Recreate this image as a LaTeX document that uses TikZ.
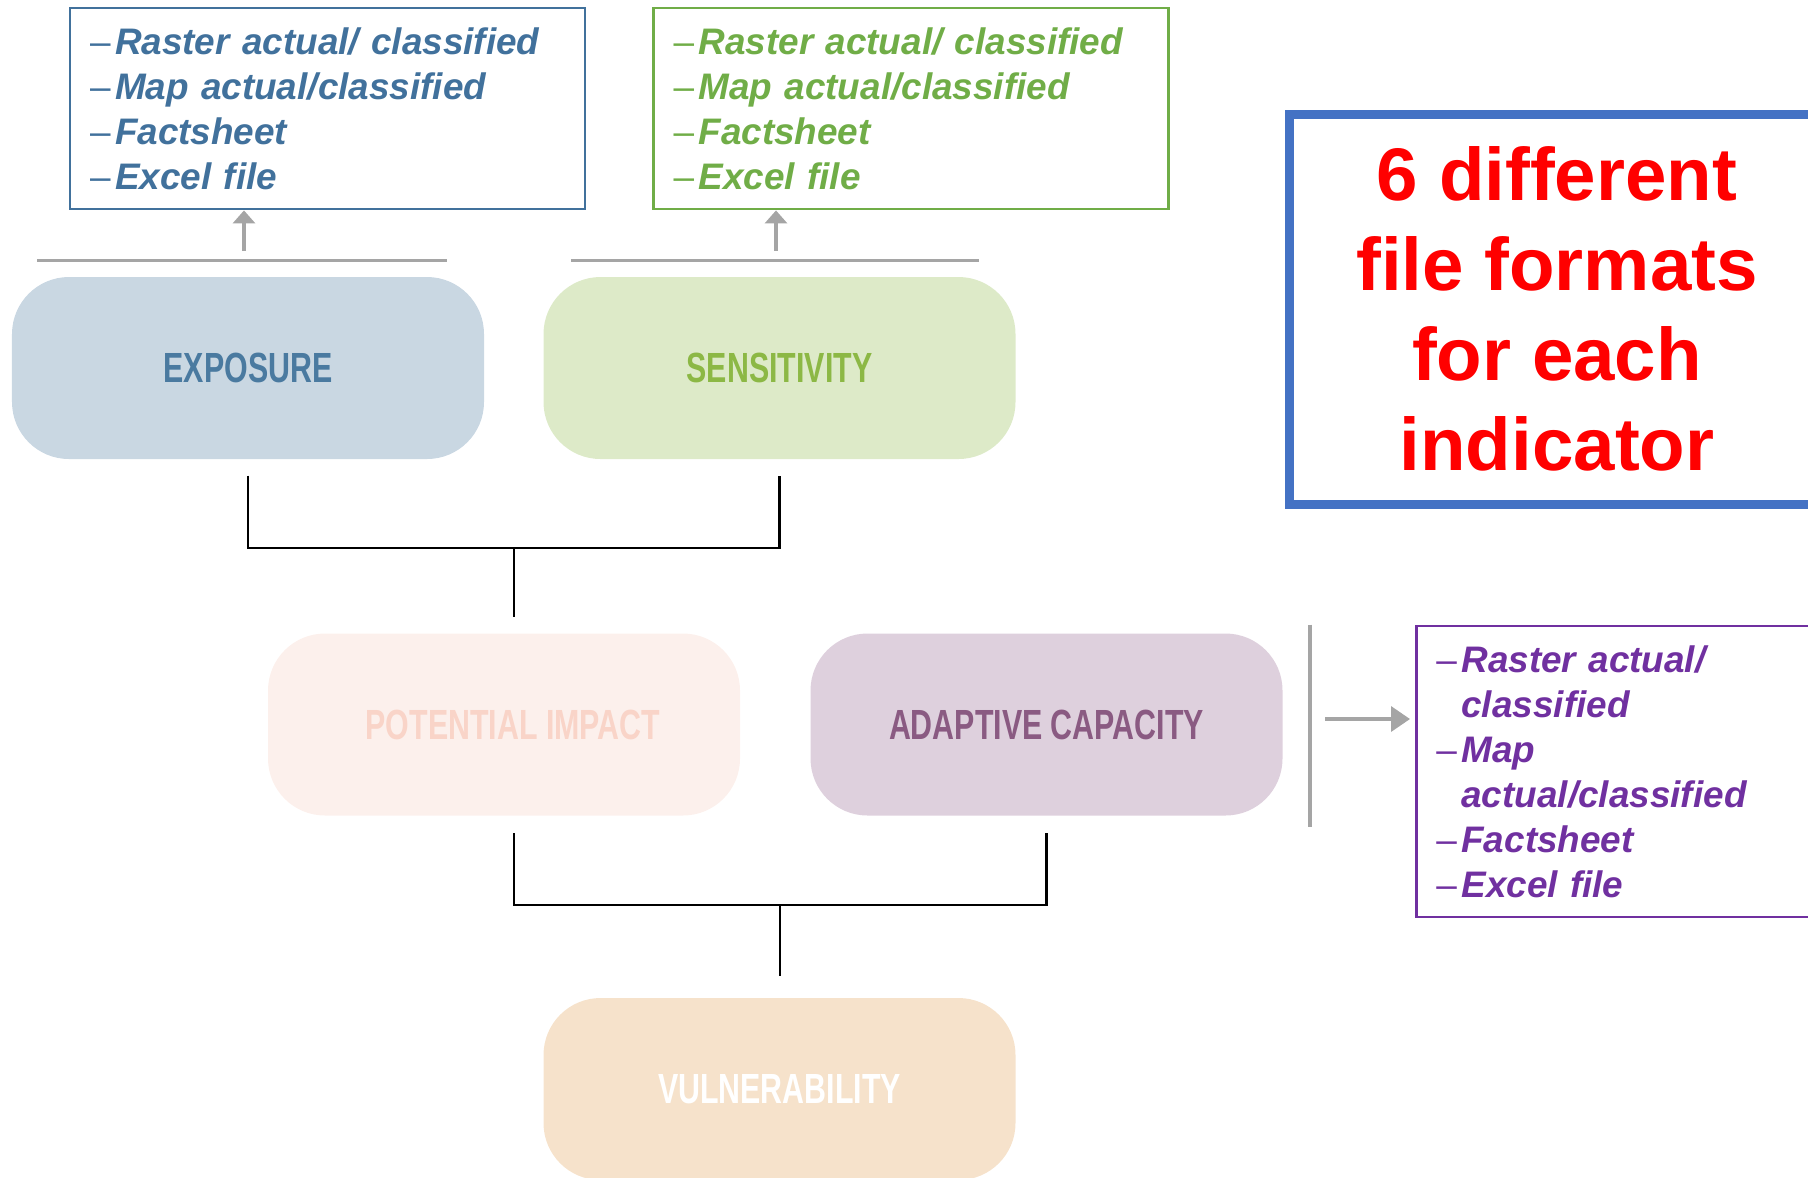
\documentclass[tikz,border=0pt]{standalone}
\usepackage{fontspec}
\setmainfont{Liberation Sans}
\newfontfamily\condfont[FakeStretch=0.72]{Liberation Sans Bold}
\usetikzlibrary{arrows.meta,calc}

\definecolor{expfill}{HTML}{C9D7E2}
\definecolor{exptext}{HTML}{4A7AA0}
\definecolor{sensfill}{HTML}{DDEAC8}
\definecolor{senstext}{HTML}{8CB845}
\definecolor{potfill}{HTML}{FCF0EC}
\definecolor{pottext}{HTML}{F9D4C8}
\definecolor{adaptfill}{HTML}{DED0DD}
\definecolor{adapttext}{HTML}{8A5A82}
\definecolor{vulnfill}{HTML}{F6E2CB}
\definecolor{listblue}{HTML}{41719C}
\definecolor{listgreen}{HTML}{70AD47}
\definecolor{listpurple}{HTML}{7030A0}
\definecolor{linegray}{HTML}{A5A5A5}
\definecolor{frameblue}{HTML}{4472C4}

\newcommand{\fmtitem}[1]{\makebox[0.25cm][l]{\mdseries\upshape –}#1}
\newcommand{\fmtcont}[1]{\hspace*{0.25cm}#1}

\begin{document}
\begin{tikzpicture}[
		block/.style={rounded corners=0.57cm, minimum width=4.72cm, minimum height=1.82cm,
			inner sep=0pt, font=\condfont\fontsize{12}{14}\selectfont},
		fmtlist/.style={draw, line width=0.8pt, align=left, inner xsep=0.2cm, inner ysep=0pt,
			font=\fontsize{10.5}{12.8}\selectfont\bfseries\itshape},
		link/.style={line width=0.6pt},
		bar/.style={draw=linegray, line width=1pt},
		grayarrow/.style={draw=linegray, line width=1pt, -{Triangle[length=0.13cm,width=0.22cm]}}
	]
		\useasboundingbox (0,0) rectangle (18.08,-11.77);
		\clip (0,0) rectangle (18.08,-11.77);
%		\draw[help lines] (0,-12) grid (18,0);
		\path (2.48,-3.68) coordinate (expopos);
		\path (7.795,-3.68) coordinate (senspos);
		\path (5.04,-7.245) coordinate (potpos);
		\path (10.465,-7.245) coordinate (adaptpos);
		\path (7.795,-10.89) coordinate (vulnpos);
		\path (3.275,-1.085) coordinate (bluepos);
		\path (9.11,-1.085) coordinate (greenpos);
		\path (14.15,-7.715) coordinate (purplepos);

		% indicator groups
		\node[block, fill=expfill, text=exptext] (expo) at (expopos) {EXPOSURE};
		\node[block, fill=sensfill, text=senstext] (sens) at (senspos) {SENSITIVITY};
		\node[block, fill=potfill, text=pottext] (pot) at (potpos) {\hspace*{0.18cm}POTENTIAL IMPACT};
		\node[block, fill=adaptfill, text=adapttext] (adapt) at (adaptpos) {ADAPTIVE CAPACITY};
		\node[block, fill=vulnfill, text=white] (vuln) at (vulnpos) {VULNERABILITY};

		% file formats
		\node[fmtlist, draw=listblue, text=listblue, text width=4.75cm, minimum height=2.01cm] (bluelist) at (bluepos)
			{\fmtitem{Raster actual/ classified}\\\fmtitem{Map actual/classified}\\\fmtitem{Factsheet}\\\fmtitem{Excel file}};
		\node[fmtlist, draw=listgreen, text=listgreen, text width=4.75cm, minimum height=2.01cm] (greenlist) at (greenpos)
			{\fmtitem{Raster actual/ classified}\\\fmtitem{Map actual/classified}\\\fmtitem{Factsheet}\\\fmtitem{Excel file}};
		\node[fmtlist, draw=listpurple, text=listpurple, text width=4.1cm, minimum height=2.91cm, anchor=west] (purplelist) at (purplepos)
			{\fmtitem{Raster actual/}\\\fmtcont{classified}\\\fmtitem{Map}\\\fmtcont{actual/classified}\\\fmtitem{Factsheet}\\\fmtitem{Excel file}};

		\node[draw=frameblue, line width=0.09cm, minimum width=5.36cm, minimum height=3.9cm, align=center, text=red,
			font=\fontsize{21.2}{25.6}\selectfont\bfseries] (note) at (15.57,-3.09)
			{6 different\\file formats\\for each\\indicator};

		% gray bars and arrows
		\path ([shift={(0.26,0.16)}]expo.north west) coordinate (expobarl);
		\path ([shift={(-0.38,0.16)}]expo.north east) coordinate (expobarr);
		\path ([shift={(0.28,0.16)}]sens.north west) coordinate (sensbarl);
		\path ([shift={(-0.37,0.16)}]sens.north east) coordinate (sensbarr);
		\draw[bar] (expobarl) -- (expobarr);
		\draw[bar] (sensbarl) -- (sensbarr);
		\path (2.44,-2.51) coordinate (expoup);
		\path (7.76,-2.51) coordinate (sensup);
		\draw[grayarrow] (expoup) -- (expoup |- bluelist.south);
		\draw[grayarrow] (sensup) -- (sensup |- greenlist.south);

		\path ([xshift=0.27cm]adapt.east) coordinate (adaptbar);
		\draw[bar] ([yshift=1.0cm]adaptbar) -- ([yshift=-1.02cm]adaptbar);
		\path (13.25,-7.19) coordinate (adaptout);
		\draw[grayarrow, -{Triangle[length=0.19cm,width=0.25cm]}] (adaptout) -- ([xshift=-0.05cm]adaptout -| purplelist.west);

		% connectors
		\draw[link] ([yshift=-1.6mm]expo.south) -- ++(0,-0.72) -| ([yshift=-1.6mm]sens.south);
		\coordinate (join1) at ($(expo.south)!0.5!(sens.south)+(0,-0.88)$);
		\draw[link] (join1) -- ([yshift=1.6mm]pot.north -| join1);
		\draw[link] ([yshift=-1.7mm]pot.south -| join1) -- ++(0,-0.72) -| ([yshift=-1.7mm]adapt.south);
		\coordinate (join2) at ($(join1 |- pot.south)!0.5!(adapt.south)+(0,-0.89)$);
		\draw[link] (join2) -- ([yshift=2.1mm]vuln.north -| join2);
	\end{tikzpicture}
\end{document}
